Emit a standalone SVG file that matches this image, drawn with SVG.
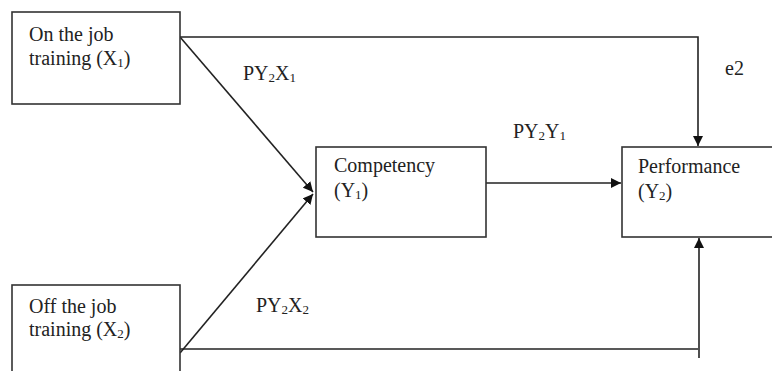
<svg xmlns="http://www.w3.org/2000/svg" width="772" height="371" viewBox="0 0 772 371">
<style>
.box{fill:#fff;stroke:#333;stroke-width:1.6}
.ln{fill:none;stroke:#222;stroke-width:1.6}
text{font-family:"Liberation Serif","Times New Roman",serif;font-size:20px;fill:#222}
.s{font-size:13px}
</style>
<defs>
<marker id="ah" viewBox="0 0 10 10" refX="10" refY="5" markerWidth="10" markerHeight="10" markerUnits="userSpaceOnUse" orient="auto">
<path d="M0,0 L10,5 L0,10 z" fill="#111"/>
</marker>
</defs>
<rect width="772" height="371" fill="#fff"/>
<g id="connectors">
<polyline class="ln" points="180,37 698,37 698,146" marker-end="url(#ah)"/>
<line class="ln" x1="180" y1="37" x2="313" y2="192" marker-end="url(#ah)"/>
<line class="ln" x1="180" y1="353" x2="313" y2="194" marker-end="url(#ah)"/>
<line class="ln" x1="486" y1="183" x2="621" y2="183" marker-end="url(#ah)"/>
<line class="ln" x1="180" y1="349" x2="698" y2="349"/>
<line class="ln" x1="699" y1="358" x2="699" y2="238" marker-end="url(#ah)"/>
<text x="243" y="80">PY<tspan class="s" dy="2">2</tspan><tspan dy="-2">X</tspan><tspan class="s" dy="2">1</tspan></text>
<text x="513" y="138">PY<tspan class="s" dy="2">2</tspan><tspan dy="-2">Y</tspan><tspan class="s" dy="2">1</tspan></text>
<text x="256" y="312">PY<tspan class="s" dy="2">2</tspan><tspan dy="-2">X</tspan><tspan class="s" dy="2">2</tspan></text>
<text x="725" y="75">e2</text>
</g>
<g id="n-onjob">
<rect class="box" x="12" y="12" width="168" height="92"/>
<text x="29" y="41">On the job</text>
<text x="29" y="65">training (X<tspan class="s" dy="2">1</tspan><tspan dy="-2">)</tspan></text>
</g>
<g id="n-offjob">
<rect class="box" x="12" y="285" width="168" height="100"/>
<text x="29" y="313">Off  the job</text>
<text x="29" y="336">training (X<tspan class="s" dy="2">2</tspan><tspan dy="-2">)</tspan></text>
</g>
<g id="n-competency">
<rect class="box" x="316" y="147" width="170" height="90"/>
<text x="334" y="172">Competency</text>
<text x="334" y="197">(Y<tspan class="s" dy="2">1</tspan><tspan dy="-2">)</tspan></text>
</g>
<g id="n-performance">
<rect class="box" x="622" y="147" width="160" height="90"/>
<text x="638" y="173">Performance</text>
<text x="638" y="198">(Y<tspan class="s" dy="2">2</tspan><tspan dy="-2">)</tspan></text>
</g>
</svg>
